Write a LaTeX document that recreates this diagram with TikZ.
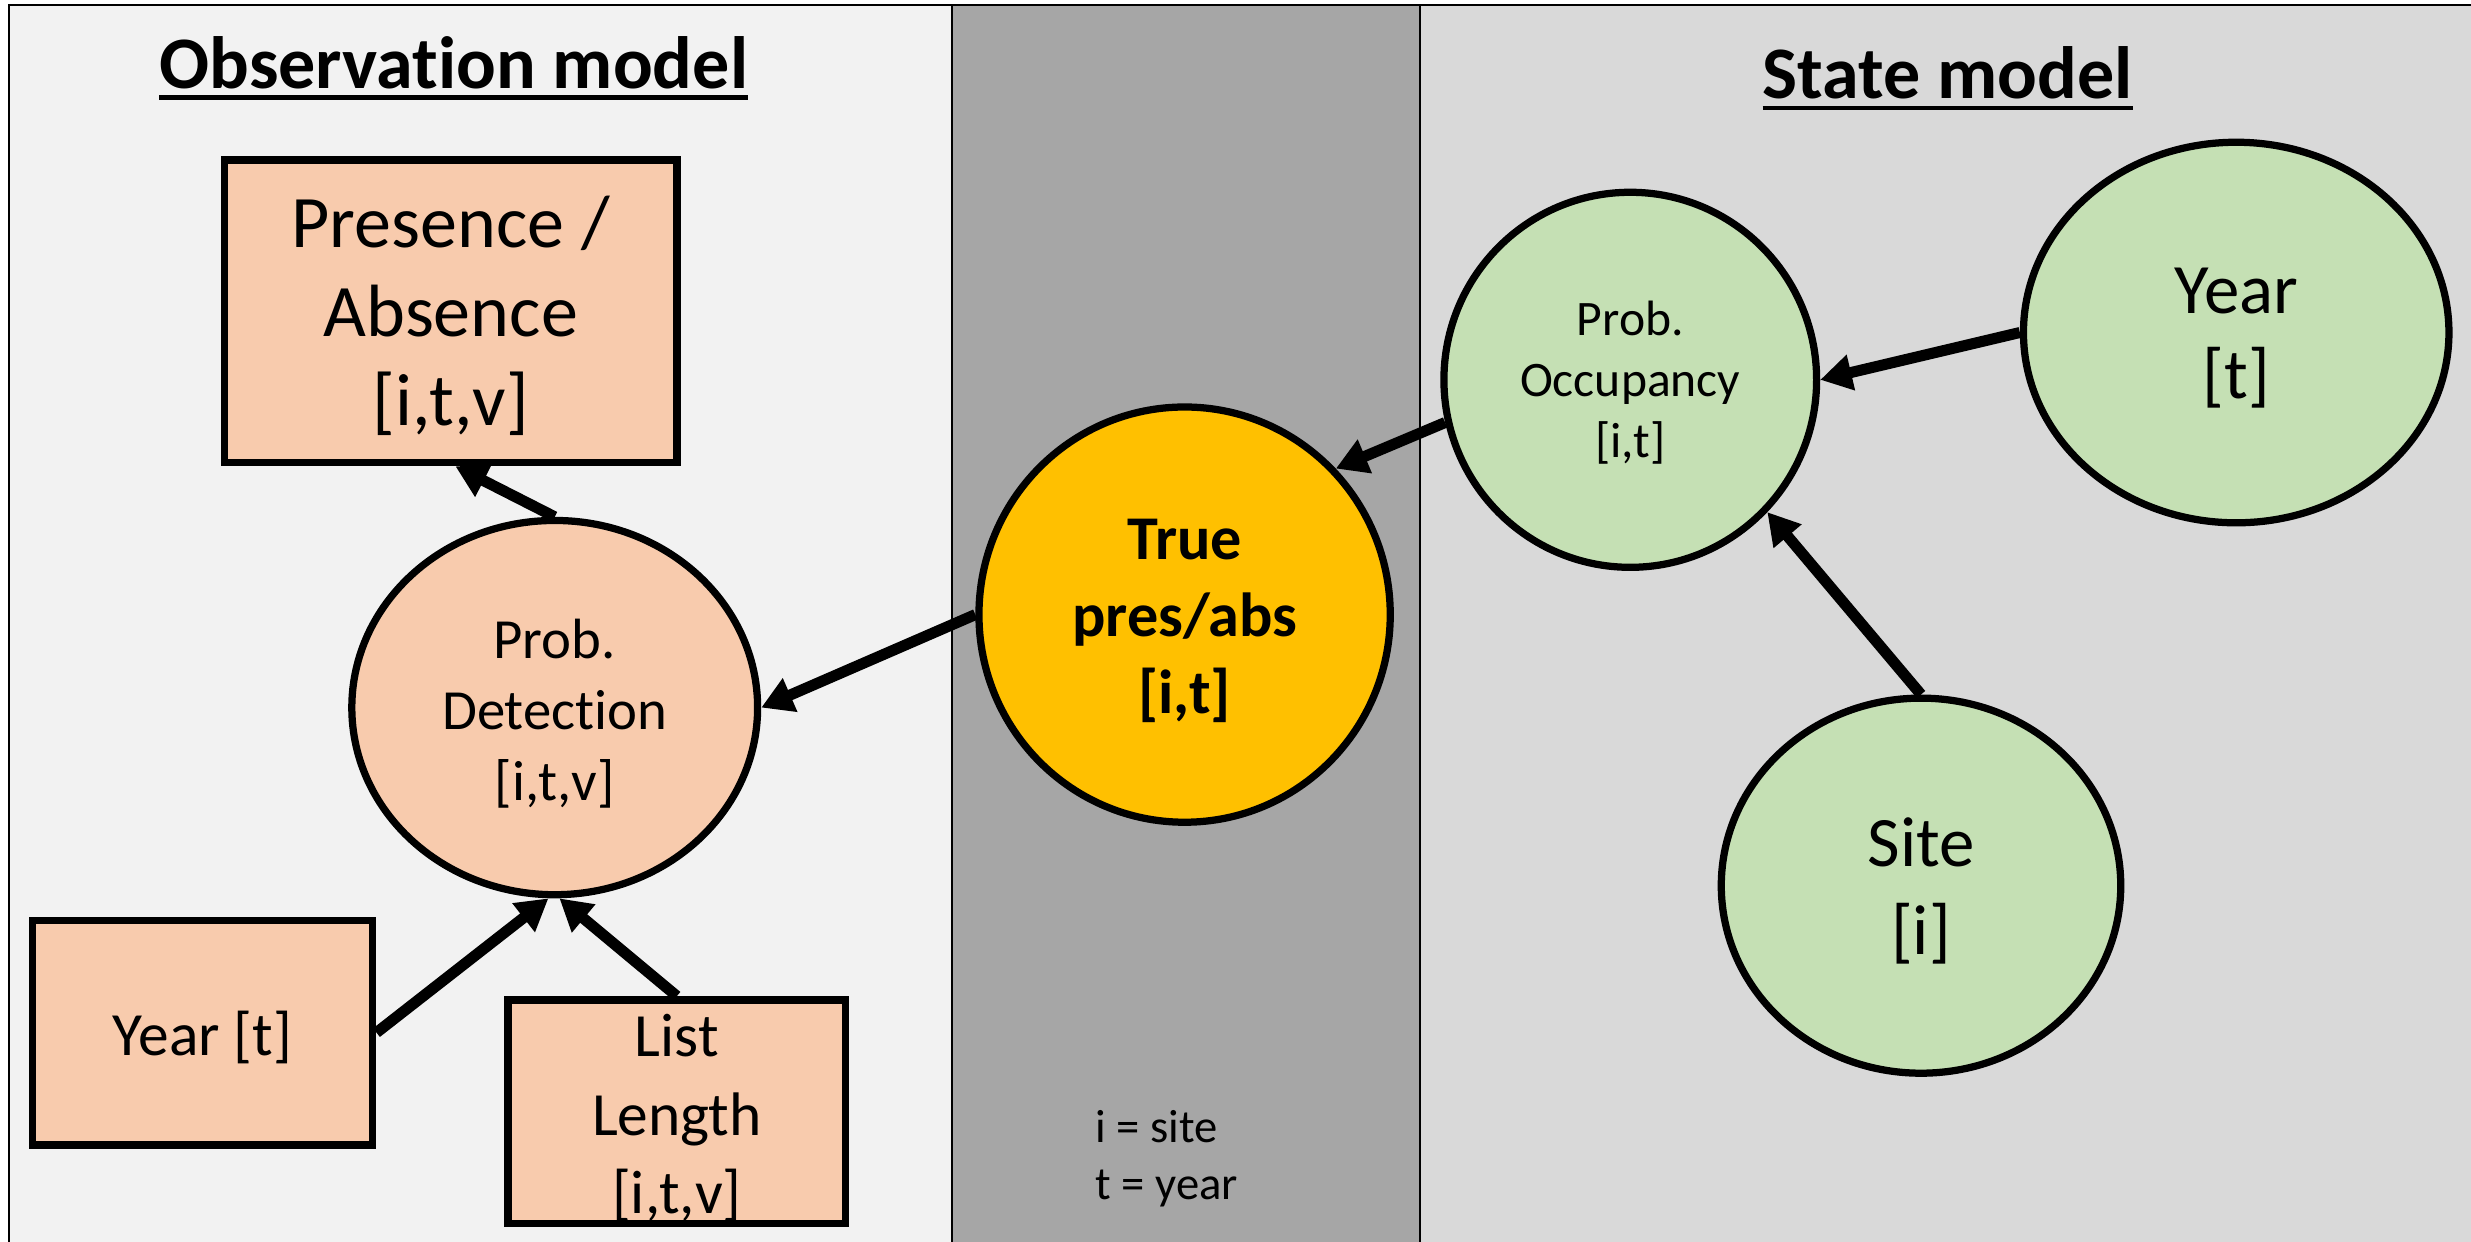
\documentclass[tikz,border=0pt]{standalone}
\usepackage{fontspec}
\setmainfont{Carlito}[Ligatures={NoCommon}]
\usetikzlibrary{arrows.meta,shapes.geometric}
\definecolor{obsbg}{HTML}{F2F2F2}
\definecolor{midbg}{HTML}{A6A6A6}
\definecolor{statebg}{HTML}{D9D9D9}
\definecolor{peach}{HTML}{F8CBAD}
\definecolor{leaf}{HTML}{C5E0B4}
\definecolor{gold}{HTML}{FFC000}
\newcommand\myfs[2]{\fontsize{#1}{#2}\selectfont}
\tikzset{
  panel/.style={draw=black, line width=1.3pt},
  obox/.style={rectangle, draw=black, line width=4.8pt, fill=peach, inner sep=0pt},
  oell/.style={ellipse, draw=black, line width=4.6pt, inner sep=0pt},
  txt/.style={inner sep=0pt, align=center},
  arr/.style={line width=7pt, -{Triangle[length=20pt,width=22pt]}},
  ttl/.style={font=\myfs{47}{56}\bfseries, inner sep=0pt, anchor=base},
  uline/.style={line width=3pt},
  legendtxt/.style={font=\myfs{29.6}{36}, inner sep=0pt, anchor=base west}
}
\begin{document}
\begin{tikzpicture}[x=1pt,y=-1pt]
\useasboundingbox (0,0) rectangle (1568,788);
% panels
\fill[white] (0,0) rectangle (1568,788);
\filldraw[panel, fill=obsbg] (5.7,3.2) rectangle (604,800);
\filldraw[panel, fill=midbg] (604,3.2) rectangle (901,800);
\filldraw[panel, fill=statebg] (901,3.2) rectangle (1580,800);
% titles
\node[ttl] (ot) at (288,56) {Observation model};
\draw[uline] ([yshift=-6pt]ot.base west) -- ([yshift=-6pt]ot.base east);
\node[ttl] (st) at (1236,62.6) {State model};
\draw[uline] ([yshift=-6pt]st.base west) -- ([yshift=-6pt]st.base east);
% observation model
\node[obox, minimum width=287pt, minimum height=192pt] (pa) at (286,197.5) {};
\node[txt, font=\myfs{47}{56.5}] (pat) at ([yshift=-3pt]pa.center) {Presence /\\Absence\\{[i,t,v]}};
\node[oell, fill=peach, minimum width=257.5pt, minimum height=237.5pt] (det) at (352,449) {};
\node[txt, font=\myfs{36}{45}] (dett) at ([yshift=-4pt]det.center) {Prob.\\Detection\\{[i,t,v]}};
\node[obox, minimum width=216pt, minimum height=142.5pt] (yrl) at (128.5,655.25) {};
\node[txt, font=\myfs{39}{50}] (yrlt) at ([yshift=-3pt]yrl.center) {Year [t]};
\node[obox, minimum width=214pt, minimum height=142pt] (ll) at (429.5,705.5) {};
\node[txt, font=\myfs{39}{50}] (llt) at ([yshift=-4pt]ll.center) {List\\Length\\{[i,t,v]}};
% middle
\node[oell, fill=gold, minimum width=261pt, minimum height=263.5pt] (tp) at (751.7,390) {};
\node[txt, font=\myfs{39.5}{49}\bfseries] (tpt) at ([yshift=-4pt]tp.center) {True\\pres/abs\\{[i,t]}};
\node[legendtxt] (lg1) at (695,725) {i = site};
\node[legendtxt] (lg2) at (695,761) {t = year};
% state model
\node[oell, fill=leaf, minimum width=236.5pt, minimum height=238pt] (occ) at (1034.5,241) {};
\node[txt, font=\myfs{31.5}{38.6}] (occt) at ([yshift=-2pt]occ.center) {Prob.\\Occupancy\\{[i,t]}};
\node[oell, fill=leaf, minimum width=270pt, minimum height=241.5pt] (yr) at (1419,211) {};
\node[txt, font=\myfs{45}{54}] (yrt) at ([yshift=-3.5pt]yr.center) {Year\\{[t]}};
\node[oell, fill=leaf, minimum width=253.5pt, minimum height=238pt] (site) at (1219,562) {};
\node[txt, font=\myfs{45}{56}] (sitet) at ([yshift=-3.5pt]site.center) {Site\\{[i]}};
% arrows
\draw[arr] (det.north) -- ([xshift=3pt]pa.south);
\draw[arr] (tp.west) -- (det.east);
\draw[arr] (yrl.east) -- ([xshift=-4pt]det.south);
\draw[arr] (ll.north) -- ([xshift=3pt]det.south);
\draw[arr] (occ.193.7) -- (tp.44.6);
\draw[arr] (yr.west) -- (occ.east);
\draw[arr] (site.north) -- (occ.-44.2);
\end{tikzpicture}
\end{document}
